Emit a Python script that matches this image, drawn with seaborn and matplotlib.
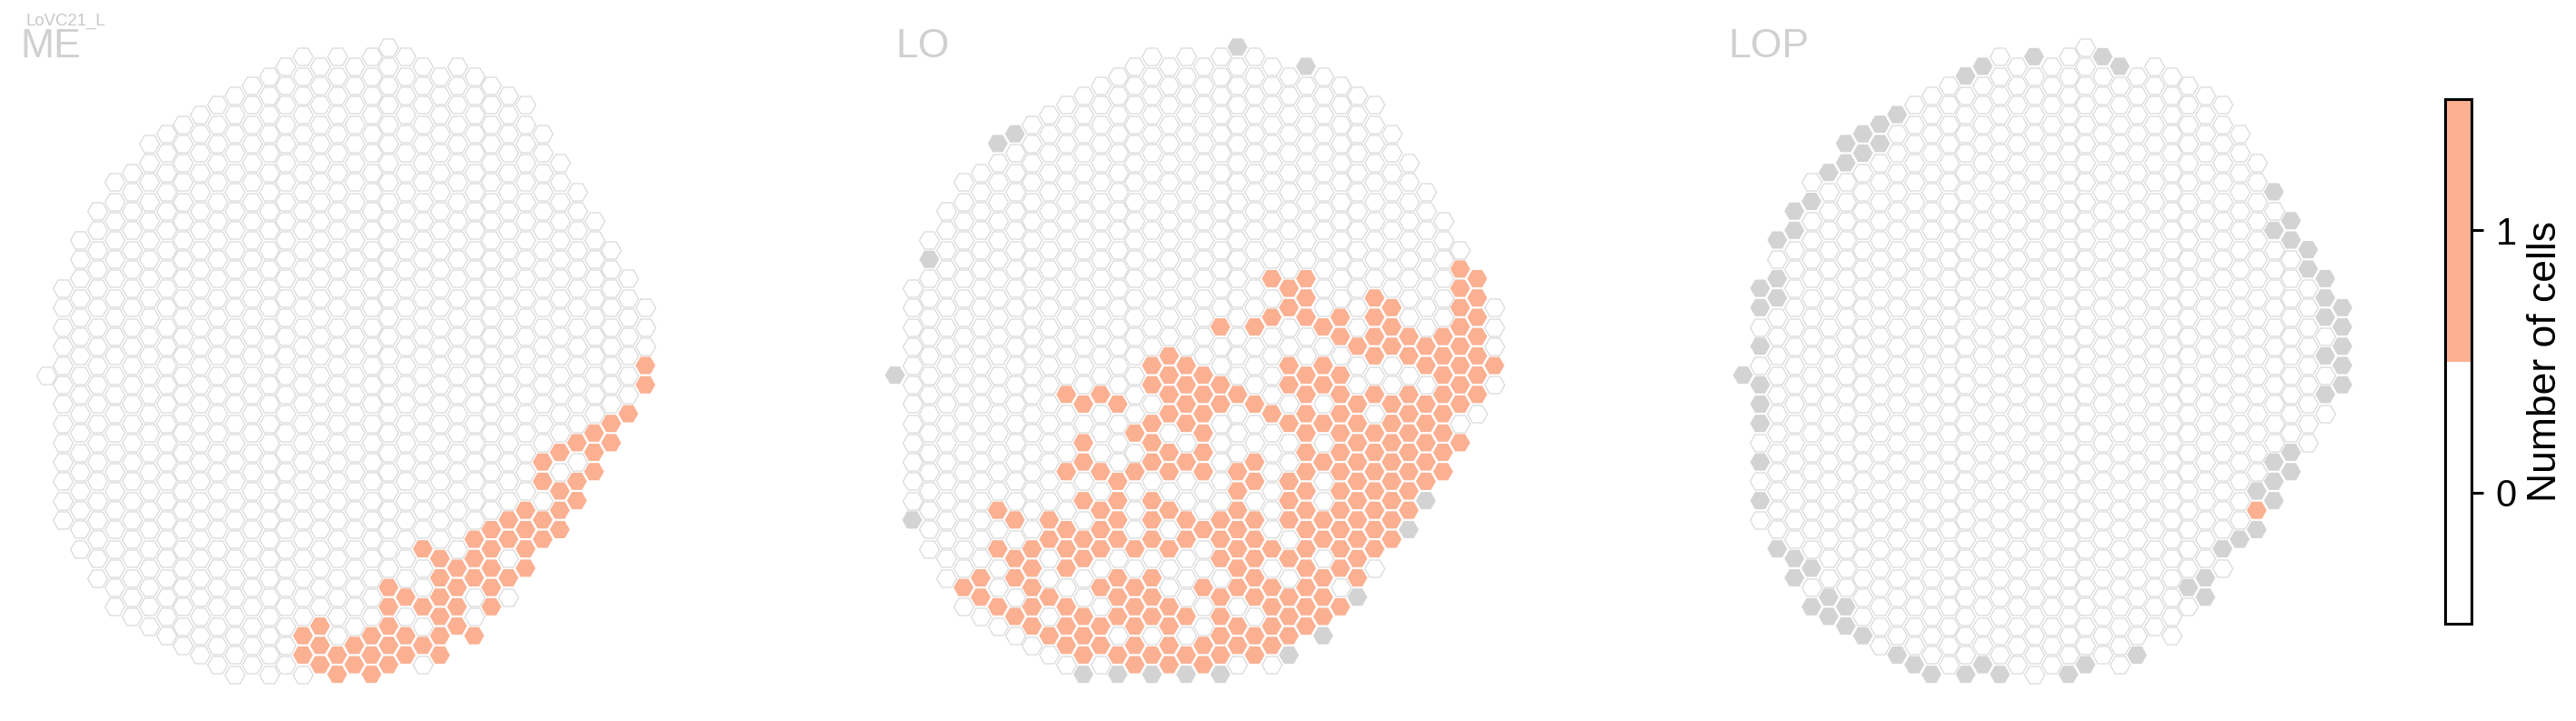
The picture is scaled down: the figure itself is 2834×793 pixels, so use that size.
import pandas as pd
import seaborn as sns
import matplotlib.pyplot as plt
from matplotlib.colors import ListedColormap, BoundaryNorm
import matplotlib as mpl

# hex grid: column index and first/last half-row index in each column
col_ids = list(range(-1, 35))
col_top = [34, 25, 20, 17, 14, 13, 10, 9, 8, 7, 6, 5, 4, 3, 2, 1, 2, 1, 2, 1, 0, 1, 2, 3, 2, 3, 4, 5, 6, 9, 12, 15, 18, 21, 24, 27]
col_bottom = [34, 49, 52, 55, 58, 59, 60, 61, 62, 63, 64, 65, 64, 65, 64, 65, 64, 65, 64, 65, 64, 63, 64, 63, 60, 61, 58, 57, 54, 51, 50, 47, 44, 41, 38, 35]

# cells per half-row: {row: [columns]}
me_cells = {33: [34], 35: [34], 38: [33], 39: [32], 40: [31], 41: [30, 32], 42: [29, 31],
            43: [28], 44: [31], 45: [28, 30], 46: [29], 47: [30], 48: [27, 29], 49: [26, 28],
            50: [25, 27, 29], 51: [24, 26, 28], 52: [21, 25, 27], 53: [22, 24], 54: [23, 25, 27],
            55: [22, 24, 26], 56: [19, 23, 25], 57: [20, 22], 58: [19, 21, 23, 25], 59: [22],
            60: [15, 19, 23], 61: [14, 18, 20, 22, 24], 62: [15, 17, 19, 21],
            63: [14, 16, 18, 20, 22], 64: [15, 17, 19], 65: [16, 18]}
me_missing = {}

lo_cells = {23: [32], 24: [21, 23, 33], 25: [22, 32], 26: [23, 27, 33], 27: [22, 28, 32],
            28: [21, 23, 25, 27, 33], 29: [18, 20, 24, 28, 32], 30: [25, 27, 29, 31, 33],
            31: [26, 28, 30, 32], 32: [15, 27, 29, 31, 33], 33: [14, 16, 22, 24, 30, 32, 34],
            34: [15, 17, 23, 25, 31, 33], 35: [14, 16, 18, 22, 24, 32],
            36: [9, 11, 15, 17, 19, 23, 25, 27, 29, 31, 33], 37: [10, 12, 16, 18, 20, 26, 28, 30, 32],
            38: [15, 17, 21, 23, 25, 29, 31], 39: [14, 16, 22, 24, 26, 28, 30],
            40: [13, 17, 23, 25, 27, 29, 31], 41: [10, 14, 26, 28, 30, 32],
            42: [15, 17, 23, 25, 27, 29, 31], 43: [10, 14, 16, 20, 24, 26, 28, 30],
            44: [9, 11, 13, 15, 17, 19, 23, 25, 27, 29, 31], 45: [12, 20, 22, 26, 28, 30],
            46: [19, 23, 25, 27, 29], 47: [10, 12, 14, 22, 26, 28], 48: [5, 11, 15, 19, 23, 25, 27, 29],
            49: [6, 8, 12, 14, 16, 18, 20, 22, 24, 26, 28], 50: [9, 11, 17, 19, 23, 25, 27],
            51: [8, 10, 12, 14, 16, 18, 20, 24, 26, 28], 52: [5, 7, 9, 11, 13, 15, 19, 21, 23, 25, 27],
            53: [6, 10, 18, 20, 22, 26], 54: [7, 9, 19, 23, 25], 55: [4, 6, 12, 14, 20, 24, 26],
            56: [3, 7, 11, 13, 17, 19, 21, 23], 57: [4, 8, 12, 14, 18, 20, 22, 24],
            58: [5, 7, 9, 13, 15, 21, 23, 25], 59: [6, 10, 12, 14, 16, 18, 22, 24],
            60: [7, 9, 11, 13, 15, 19, 21, 23], 61: [8, 10, 18, 20, 22],
            62: [9, 11, 13, 15, 17, 19, 21], 63: [10, 12, 14, 16, 18, 20], 64: [13, 15, 17]}
lo_missing = {0: [19], 2: [23], 9: [6], 10: [5], 22: [1], 34: [-1], 47: [30], 49: [0],
              50: [29], 57: [26], 61: [24], 63: [22], 65: [10, 12, 14, 16, 18]}

lop_cells = {48: [29]}
lop_missing = {1: [16, 20], 2: [13, 21], 3: [12], 7: [8], 8: [7], 9: [6], 10: [5, 7], 11: [6],
               12: [5], 13: [4], 15: [30], 16: [3], 17: [2], 18: [31], 19: [2, 30], 20: [1, 31],
               21: [32], 23: [32], 24: [1, 33], 25: [0], 26: [1, 33], 27: [0, 34], 28: [33],
               29: [34], 31: [0, 34], 32: [33], 33: [34], 34: [-1], 35: [0, 34], 36: [33],
               37: [0], 39: [0], 42: [31], 43: [0, 30], 44: [31], 45: [30], 46: [29], 47: [0, 30],
               50: [29], 51: [28], 52: [1, 27], 53: [2], 54: [3], 55: [2, 26], 56: [25],
               57: [4, 26], 58: [3, 5], 59: [4], 60: [5], 61: [6], 63: [8, 22], 64: [9, 13, 19],
               65: [10, 12, 14, 18]}

panel_names = ['ME', 'LO', 'LOP']
title_x = [22, 985, 1901]
col0_x = [69.5, 1003.5, 1936.4]
cbar_ticks = [0, 1]

salmon = '#fbb092'
W, H = 2834, 793
dx, dy, row0_y = 18.84, 10.615, 51.7

sns.set_theme(style='white')
plt.rcParams['font.family'] = ['Liberation Sans', 'DejaVu Sans']

fig = plt.figure(figsize=(W / 100, H / 100), dpi=100)


def panel_df(cells, missing):
    rows = []
    for k, top, bot in zip(col_ids, col_top, col_bottom):
        for v in range(top, bot + 1, 2):
            rows.append((k, v))
    df = pd.DataFrame(rows, columns=['col', 'row'])
    df['status'] = 'empty'
    for v, ks in missing.items():
        df.loc[(df['row'] == v) & df['col'].isin(ks), 'status'] = 'missing'
    for v, ks in cells.items():
        df.loc[(df['row'] == v) & df['col'].isin(ks), 'status'] = 'cells'
    return df


xlim = (-2.5, 35.5)
ylim = (67, -2)
s_hex = 250

for name, c0, tx, cells, missing in zip(panel_names, col0_x, title_x,
                                        [me_cells, lo_cells, lop_cells],
                                        [me_missing, lo_missing, lop_missing]):
    left = c0 + xlim[0] * dx
    width = (xlim[1] - xlim[0]) * dx
    top = row0_y + ylim[1] * dy
    height = (ylim[0] - ylim[1]) * dy
    ax = fig.add_axes([left / W, 1 - (top + height) / H, width / W, height / H])
    df = panel_df(cells, missing)
    sns.scatterplot(data=df[df.status == 'empty'], x='col', y='row', marker='H', s=s_hex,
                    color='white', edgecolor='#d6d6d6', linewidth=0.8, ax=ax, legend=False,
                    clip_on=False)
    sns.scatterplot(data=df[df.status == 'missing'], x='col', y='row', marker='H', s=s_hex,
                    color='#d3d3d3', edgecolor='none', linewidth=0, ax=ax, legend=False,
                    clip_on=False)
    sns.scatterplot(data=df[df.status == 'cells'], x='col', y='row', marker='H', s=s_hex,
                    color=salmon, edgecolor='none', linewidth=0, ax=ax, legend=False,
                    clip_on=False)
    ax.set_xlim(xlim)
    ax.set_ylim(ylim)
    ax.set_axis_off()
    fig.text(tx / W, 1 - 63 / H, name, fontsize=32, color='#d0d0d0', va='baseline', ha='left')

fig.text(28 / W, 1 - 28 / H, 'LoVC21_L', fontsize=13.4, color='#c8c8c8', va='baseline', ha='left')

# colorbar
cax = fig.add_axes([2690 / W, 1 - 686 / H, 29 / W, 577 / H])
cmap = ListedColormap(['white', salmon])
norm = BoundaryNorm([-0.5, 0.5, 1.5], 2)
cb = fig.colorbar(mpl.cm.ScalarMappable(norm=norm, cmap=cmap), cax=cax, ticks=cbar_ticks)
cb.outline.set_linewidth(2.2)
cb.outline.set_edgecolor('black')
cax.tick_params(length=9, width=2.2, labelsize=30, pad=10, colors='black', right=True)
cax.minorticks_off()
cax.set_yticklabels([str(t) for t in cbar_ticks])
fig.text(2780 / W, 1 - 397 / H, 'Number of cells', rotation=90, fontsize=32,
         ha='left', va='center', color='black')

fig.savefig('out.png', dpi=100)
